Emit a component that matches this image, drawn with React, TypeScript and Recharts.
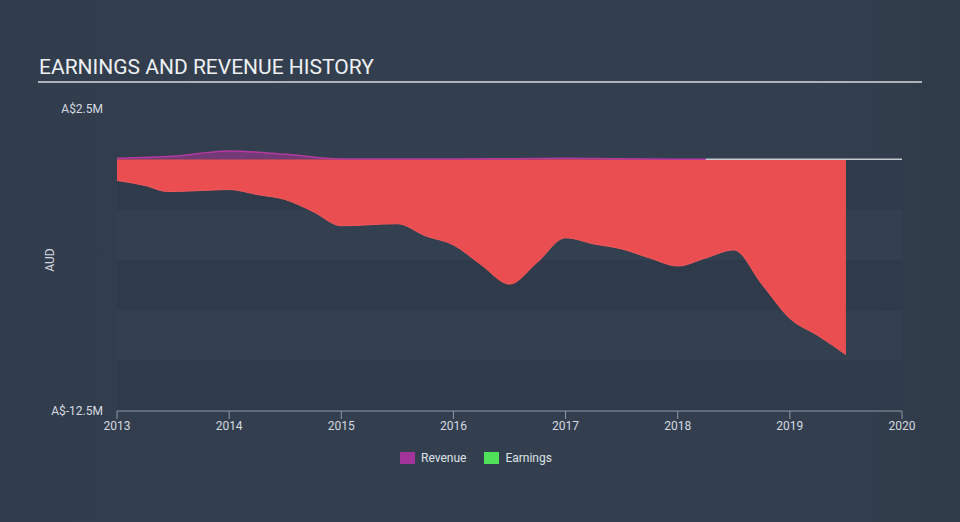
import {
  ComposedChart,
  Area,
  XAxis,
  YAxis,
  ReferenceArea,
  ReferenceLine,
} from 'recharts';

// years (fractional) and values in A$ millions
const earningsYears = [
  2013.0, 2013.25, 2013.45, 2013.75, 2014.0, 2014.25, 2014.5, 2014.75, 2015.0,
  2015.5, 2015.75, 2016.0, 2016.25, 2016.5, 2016.75, 2017.0, 2017.25, 2017.5,
  2017.75, 2018.0, 2018.25, 2018.5, 2018.75, 2019.0, 2019.25, 2019.5,
];
const earningsValues = [
  -1.05, -1.3, -1.6, -1.55, -1.5, -1.75, -2.0, -2.6, -3.3,
  -3.2, -3.8, -4.25, -5.25, -6.2, -5.1, -3.9, -4.2, -4.45,
  -4.9, -5.3, -4.9, -4.5, -6.2, -7.9, -8.75, -9.7,
];

const revenueYears = [
  2013.0, 2013.5, 2014.0, 2014.5, 2015.0, 2015.5, 2016.0, 2016.5, 2017.0,
  2017.5, 2018.0, 2018.25,
];
const revenueValues = [
  0.05, 0.15, 0.42, 0.25, 0.02, 0.02, 0.02, 0.03, 0.06,
  0.03, 0.01, 0.0,
];

const xTicks = [2013, 2014, 2015, 2016, 2017, 2018, 2019, 2020];
const yTicks = [2.5, -12.5];
const yTickLabels = ['A$2.5M', 'A$-12.5M'];

// horizontal stripes behind the plot: [top, bottom, dark?]
const bands: [number, number, boolean][] = [
  [0, -2.5, true],
  [-2.5, -5, false],
  [-5, -7.5, true],
  [-7.5, -10, false],
  [-10, -12.5, true],
];

const earningsData = earningsYears.map((x, i) => ({ x, earnings: earningsValues[i] }));
const revenueData = revenueYears.map((x, i) => ({ x, revenue: revenueValues[i] }));

const BG = '#333f4f';
const DARK_BAND = '#2f3a4a';
const LIGHT_BAND = '#334050';
const AXIS = '#8d99a6';
const FONT = 'Roboto, "Open Sans", sans-serif';

function YTick(props: any) {
  const { y, payload } = props;
  const idx = yTicks.indexOf(payload.value);
  return (
    <text x={103} y={y} dy={4} textAnchor="end" fill="#d6dae0" fontSize={12} fontFamily={FONT}>
      {yTickLabels[idx]}
    </text>
  );
}

export default function App() {
  return (
    <div
      style={{
        position: 'absolute',
        left: 0,
        top: 0,
        width: 960,
        height: 522,
        background: `linear-gradient(90deg, #313d4c 0%, ${BG} 30%, ${BG} 85%, #303b49 100%)`,
        fontFamily: FONT,
        overflow: 'hidden',
      }}
    >
      <div
        style={{
          position: 'absolute',
          left: 39,
          top: 55,
          fontSize: 21,
          color: '#eef0f2',
          whiteSpace: 'nowrap',
        }}
      >
        EARNINGS AND REVENUE HISTORY
      </div>
      <div
        style={{
          position: 'absolute',
          left: 38,
          top: 81,
          width: 884,
          height: 2,
          background: '#aeb3ba',
        }}
      />
      <ComposedChart
        width={960}
        height={522}
        margin={{ top: 109, right: 58, bottom: 81, left: 57 }}
        style={{ position: 'absolute', left: 0, top: 0 }}
      >
        <XAxis
          dataKey="x"
          type="number"
          domain={[2013, 2020]}
          ticks={xTicks}
          allowDataOverflow
          height={30}
          stroke={AXIS}
          tickSize={8}
          tick={{ fill: '#d6dae0', fontSize: 12, fontFamily: FONT }}
          tickMargin={2}
        />
        <YAxis
          type="number"
          domain={[-12.5, 2.5]}
          ticks={yTicks}
          width={60}
          axisLine={false}
          tickLine={false}
          tick={<YTick />}
        />
        {bands.map(([a, b, dark], i) => (
          <ReferenceArea
            key={i}
            x1={2013}
            x2={2020}
            y1={a}
            y2={b}
            fill={dark ? DARK_BAND : LIGHT_BAND}
            fillOpacity={1}
            stroke="none"
          />
        ))}
        <Area
          data={earningsData}
          dataKey="earnings"
          type="monotone"
          baseValue={0}
          fill="#ea4e51"
          fillOpacity={1}
          stroke="#f25a5c"
          strokeWidth={1}
          isAnimationActive={false}
          dot={false}
          activeDot={false}
        />
        <Area
          data={revenueData}
          dataKey="revenue"
          type="monotone"
          baseValue={0}
          fill="#8a3a86"
          fillOpacity={0.75}
          stroke="#b53a9f"
          strokeWidth={1.5}
          isAnimationActive={false}
          dot={false}
          activeDot={false}
        />
        <ReferenceLine
          segment={[
            { x: 2018.25, y: 0 },
            { x: 2020, y: 0 },
          ]}
          stroke="#c5cad0"
          strokeWidth={1.5}
        />
      </ComposedChart>
      <div
        style={{
          position: 'absolute',
          left: 50,
          top: 260,
          transform: 'translate(-50%, -50%) rotate(-90deg)',
          fontSize: 12,
          color: '#d6dae0',
          whiteSpace: 'nowrap',
        }}
      >
        AUD
      </div>
      <div
        style={{
          position: 'absolute',
          left: 400,
          top: 451,
          display: 'flex',
          alignItems: 'center',
          fontSize: 12,
          color: '#dfe2e6',
        }}
      >
        <span style={{ width: 15, height: 12, background: '#a1339a', display: 'inline-block' }} />
        <span style={{ marginLeft: 6 }}>Revenue</span>
        <span
          style={{ width: 15, height: 12, background: '#4fe15a', display: 'inline-block', marginLeft: 18 }}
        />
        <span style={{ marginLeft: 6 }}>Earnings</span>
      </div>
    </div>
  );
}
